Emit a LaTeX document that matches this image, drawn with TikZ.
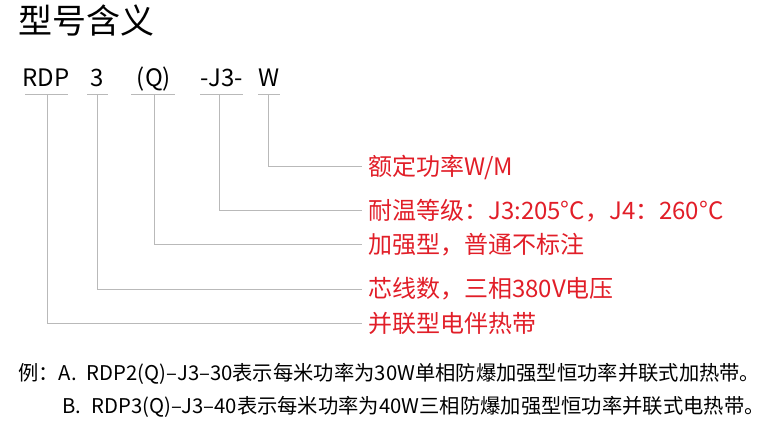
\documentclass[tikz,border=0pt]{standalone}
\usepackage{fontspec}
\setmainfont{Noto Sans CJK SC}
\usetikzlibrary{positioning}
\definecolor{leadcolor}{RGB}{185,185,185}
\definecolor{notecolor}{RGB}{225,30,40}
\begin{document}
\begin{tikzpicture}[
    x=1pt, y=-1pt,
    code/.style={font=\fontsize{24}{24}\selectfont, inner sep=0pt, anchor=base},
    note/.style={font=\fontsize{24}{24}\selectfont, text=notecolor, inner sep=0pt, anchor=west},
    lead/.style={draw=leadcolor, line width=1pt},
    example/.style={font=\fontsize{20.3}{20.3}\selectfont, inner sep=0pt, anchor=west}
]
    \useasboundingbox (0,0) rectangle (772,441);
    \node[font=\fontsize{34}{34}\selectfont, inner sep=0pt, anchor=west] (title) at (18,20) {型号含义};

    % model code
    \node[code] (rdp) at (46,87) {RDP};
    \node[code] (num) at (97,87) {3};
    \node[code] (q) at (154,87) {(Q)};
    \node[code] (j) at (222,87) {-J3-};
    \node[code] (w) at (269,87) {W};
    \foreach \a/\b/\n in {25/68/rdp, 87/108/num, 131/175/q, 200/243/j, 258/280/w}
        \draw[lead] (\a,95) -- (\b,95);

    % meanings
    \node[note] (nw) at (368,167) {额定功率W/M};
    \node[note] (nj) at (368,211) {耐温等级：J3:205°C，J4：260°C};
    \node[note] (nq) at (368,245) {加强型，普通不标注};
    \node[note] (nn) at (368,289) {芯线数，三相380V电压};
    \node[note] (nr) at (368,323) {并联型电伴热带};

    \foreach \x/\n in {268/nw, 219/nj, 154/nq, 97/nn, 47/nr}
        \draw[lead] (\x,95) |- ([xshift=-6pt]\n.west);

    % examples
    \node[example] (exa) at (18,374) {例：A.\enspace RDP2(Q)–J3–30表示每米功率为30W单相防爆加强型恒功率并联式加热带。};
    \node[example] (exb) at (62,407) {B.\enspace RDP3(Q)–J3–40表示每米功率为40W三相防爆加强型恒功率并联式电热带。};
\end{tikzpicture}
\end{document}
